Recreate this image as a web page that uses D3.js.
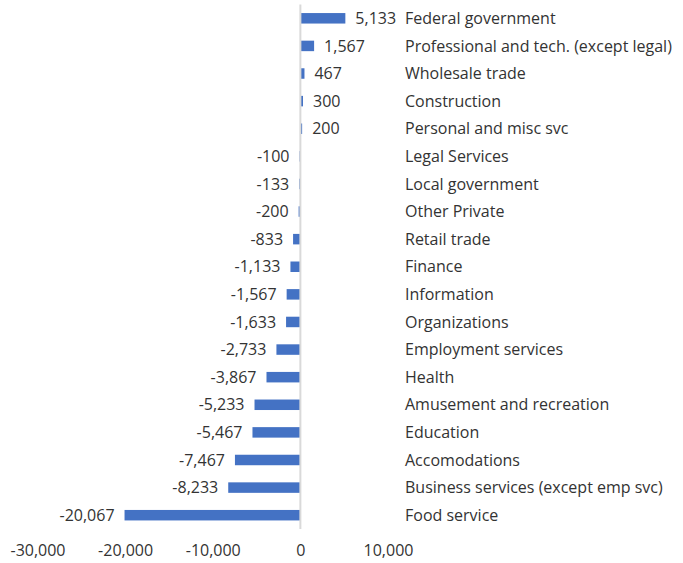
<!DOCTYPE html>
<html>
<head>
<meta charset="utf-8">
<script src="https://cdn.jsdelivr.net/npm/d3@7"></script>
<style>
  body { margin: 0; background: #fff; }
  text { font-family: "Open Sans", sans-serif; fill: #333; }
</style>
</head>
<body>
<script>
const categories = [
    "Federal government", "Professional and tech. (except legal)", "Wholesale trade",
    "Construction", "Personal and misc svc", "Legal Services", "Local government",
    "Other Private", "Retail trade", "Finance", "Information", "Organizations",
    "Employment services", "Health", "Amusement and recreation", "Education",
    "Accomodations", "Business services (except emp svc)", "Food service"
]
const values = [5133, 1567, 467, 300, 200, -100, -133, -200, -833, -1133, -1567,
    -1633, -2733, -3867, -5233, -5467, -7467, -8233, -20067]
const xTicks = [-30000, -20000, -10000, 0, 10000]

const width = 683, height = 563
const fmt = d3.formatLocale({
    decimal: ".", thousands: ",", grouping: [3], currency: ["$", ""], minus: "-"
}).format(",")

const svg = d3.select("body").append("svg")
    .attr("width", width)
    .attr("height", height)

const x = d3.scaleLinear()
    .domain([-30000, 10000])
    .range([37.5, 388])

const y = d3.scaleBand()
    .domain(categories)
    .range([4.5, 529])
    .paddingInner(0.62)
    .paddingOuter(0.31)

const data = categories.map((c, i) => ({ name: c, value: values[i] }))

svg.append("g")
    .selectAll("rect")
    .data(data)
    .join("rect")
    .attr("x", d => x(Math.min(0, d.value)))
    .attr("y", d => y(d.name))
    .attr("width", d => Math.abs(x(d.value) - x(0)))
    .attr("height", y.bandwidth())
    .style("fill", "#4472c4")

// zero line
svg.append("line")
    .attr("x1", x(0)).attr("x2", x(0))
    .attr("y1", 4.5).attr("y2", 529)
    .style("stroke", "#d9d9d9")
    .style("stroke-width", 2)

// value labels
svg.append("g")
    .selectAll("text")
    .data(data)
    .join("text")
    .attr("x", d => d.value >= 0 ? x(d.value) + 10 : x(d.value) - 10)
    .attr("y", d => y(d.name) + y.bandwidth() / 2)
    .attr("dy", "0.35em")
    .attr("text-anchor", d => d.value >= 0 ? "start" : "end")
    .style("font-size", "16px")
    .text(d => fmt(d.value))

// category labels
svg.append("g")
    .selectAll("text")
    .data(data)
    .join("text")
    .attr("x", 405)
    .attr("y", d => y(d.name) + y.bandwidth() / 2)
    .attr("dy", "0.35em")
    .style("font-size", "16px")
    .text(d => d.name)

// x axis
const xAxis = svg.append("g")
    .attr("transform", "translate(0,542)")
    .call(d3.axisBottom(x).tickValues(xTicks).tickFormat(fmt).tickSize(0))
xAxis.select(".domain").remove()
xAxis.selectAll("text")
    .style("font-size", "16px")
    .style("font-family", "'Open Sans', sans-serif")
    .style("fill", "#333")
</script>
</body>
</html>
